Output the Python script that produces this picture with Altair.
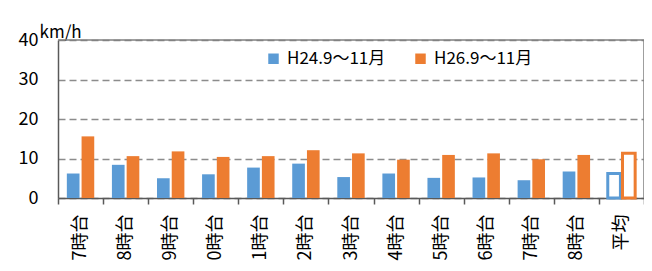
import altair as alt
import pandas as pd

labels = ["7時台", "8時台", "9時台", "0時台", "1時台", "2時台", "3時台",
          "4時台", "5時台", "6時台", "7時台", "8時台", "平均"]
h24 = [6.2, 8.4, 5.0, 6.0, 7.7, 8.7, 5.3, 6.2, 5.1, 5.2, 4.5, 6.7, 6.2]
h26 = [15.6, 10.6, 11.8, 10.4, 10.6, 12.1, 11.3, 9.7, 10.9, 11.3, 9.8, 10.9, 11.3]
series = ["H24.9～11月", "H26.9～11月"]
colors = ["#5B9BD5", "#ED7D31"]
y_ticks = [0, 10, 20, 30, 40]

rows = []
for i, lab in enumerate(labels):
    for s, vals in zip(series, [h24, h26]):
        rows.append({"idx": i, "label": lab, "series": s, "value": vals[i],
                     "avg": lab == "平均"})
df = pd.DataFrame(rows)

label_expr = "[" + ",".join(f"'{l}'" for l in labels) + "][datum.value]"
FONT = "Noto Sans CJK JP"
W, H = 586, 158

color_scale = alt.Scale(domain=series, range=colors)

bars = alt.Chart(df).mark_bar().encode(
    x=alt.X("idx:O", scale=alt.Scale(paddingInner=0, paddingOuter=0),
            axis=alt.Axis(title=None, labelExpr=label_expr, labelAngle=-90,
                          tickBand="extent", tickSize=6, tickColor="#595959",
                          tickWidth=1.5, domainColor="#595959", domainWidth=1.5,
                          labelFontSize=18, labelFont=FONT, labelColor="black",
                          labelPadding=10, grid=False)),
    xOffset=alt.XOffset("series:N", sort=series,
                        scale=alt.Scale(paddingInner=0.14, paddingOuter=0.6)),
    y=alt.Y("value:Q", scale=alt.Scale(domain=[0, 40]),
            axis=alt.Axis(values=y_ticks, title="km/h", titleAngle=0,
                          titleX=-19, titleY=-3, titleAlign="left",
                          titleBaseline="alphabetic", titleFontSize=17,
                          titleFontWeight="normal", titleFont=FONT,
                          titleColor="black",
                          labelPadding=20, ticks=False, grid=True,
                          gridDash=[7, 4], gridColor="#8c8c8c", gridWidth=1.5,
                          domainColor="#595959", domainWidth=1.5,
                          labelFontSize=18, labelFont=FONT, labelColor="black")),
    fill=alt.condition(alt.datum.avg, alt.value("white"),
                       alt.Fill("series:N", scale=color_scale,
                                legend=alt.Legend(title=None, orient="none",
                                                  legendX=207, legendY=10,
                                                  direction="horizontal",
                                                  symbolType="square",
                                                  symbolSize=110,
                                                  symbolStrokeWidth=0,
                                                  labelFontSize=17,
                                                  labelFont=FONT,
                                                  labelColor="black",
                                                  labelOffset=5,
                                                  columnPadding=26))),
    stroke=alt.Stroke("series:N", scale=color_scale, legend=None),
    strokeWidth=alt.condition(alt.datum.avg, alt.value(3), alt.value(0)),
)

border_df = pd.DataFrame({"b": [0]})
top_rule = alt.Chart(border_df).mark_rule(color="#7f7f7f", strokeWidth=1.5).encode(
    x=alt.value(0), x2=alt.value(W), y=alt.value(0)
)
right_rule = alt.Chart(border_df).mark_rule(color="#7f7f7f", strokeWidth=1.5).encode(
    x=alt.value(W), y=alt.value(0), y2=alt.value(H)
)

chart = alt.layer(bars, top_rule, right_rule).properties(
    width=W, height=H,
    autosize=alt.AutoSizeParams(type="none"),
    padding={"left": 50, "top": 32, "right": 0, "bottom": 65},
    background="white",
).configure_view(
    strokeWidth=0
)

chart.save("out.html", embed_options={"renderer": "svg", "actions": False})
